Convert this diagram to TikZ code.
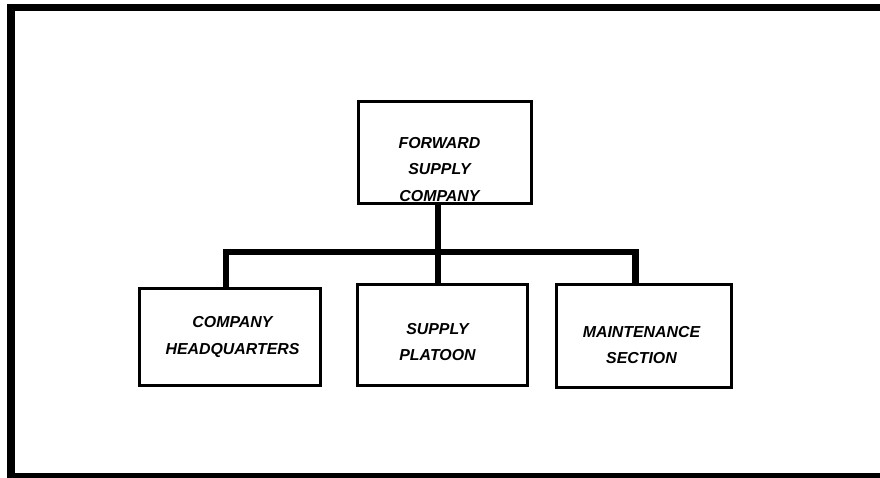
\documentclass[tikz,border=0pt]{standalone}
\usepackage{fontspec}
\setmainfont{Liberation Sans}
\usetikzlibrary{positioning}

\tikzset{
    unit/.style={draw, line width=2.1pt, inner sep=0pt},
    lbl/.style={align=center, inner sep=0pt},
    link/.style={line width=4.3pt, line join=miter}
}

\begin{document}
\begin{tikzpicture}[x=0.025cm, y=-0.025cm,
    font=\fontsize{11.3}{19}\selectfont\bfseries\itshape]
    \def\xL{226} \def\xM{438} \def\xR{635.5} \def\yBar{252}
    \useasboundingbox (0,0) rectangle (880,478);
    \clip (0,0) rectangle (880,478);
    % Frame
    \draw[line width=5pt] (11,7.5) rectangle (895,476.5);
    % Top unit
    \node[unit, minimum width=4.325cm, minimum height=2.55cm] (fsc) at (445,152.5) {};
    \node[lbl] (fsc-txt) at (439.5,169.5) {FORWARD\\SUPPLY\\COMPANY};
    % Sub units
    \node[unit, minimum width=4.525cm, minimum height=2.425cm] (hq) at (230,337) {};
    \node[lbl] (hq-txt) at (232.5,337) {COMPANY\\HEADQUARTERS};
    \node[unit, minimum width=4.25cm, minimum height=2.525cm] (plt) at (442.5,335) {};
    \node[lbl] (plt-txt) at (437.5,342) {SUPPLY\\PLATOON};
    \node[unit, minimum width=4.375cm, minimum height=2.575cm] (mnt) at (644,336) {};
    \node[lbl] (mnt-txt) at (641.5,345) {MAINTENANCE\\SECTION};
    % Links
    \coordinate (barL) at (\xL,\yBar);
    \coordinate (barM) at (\xM,\yBar);
    \coordinate (barR) at (\xR,\yBar);
    \draw[link] (hq.north -| barL) -- (barL) -- (barR) -- (mnt.north -| barR);
    \draw[link] (fsc.south -| barM) -- (plt.north -| barM);
\end{tikzpicture}
\end{document}
